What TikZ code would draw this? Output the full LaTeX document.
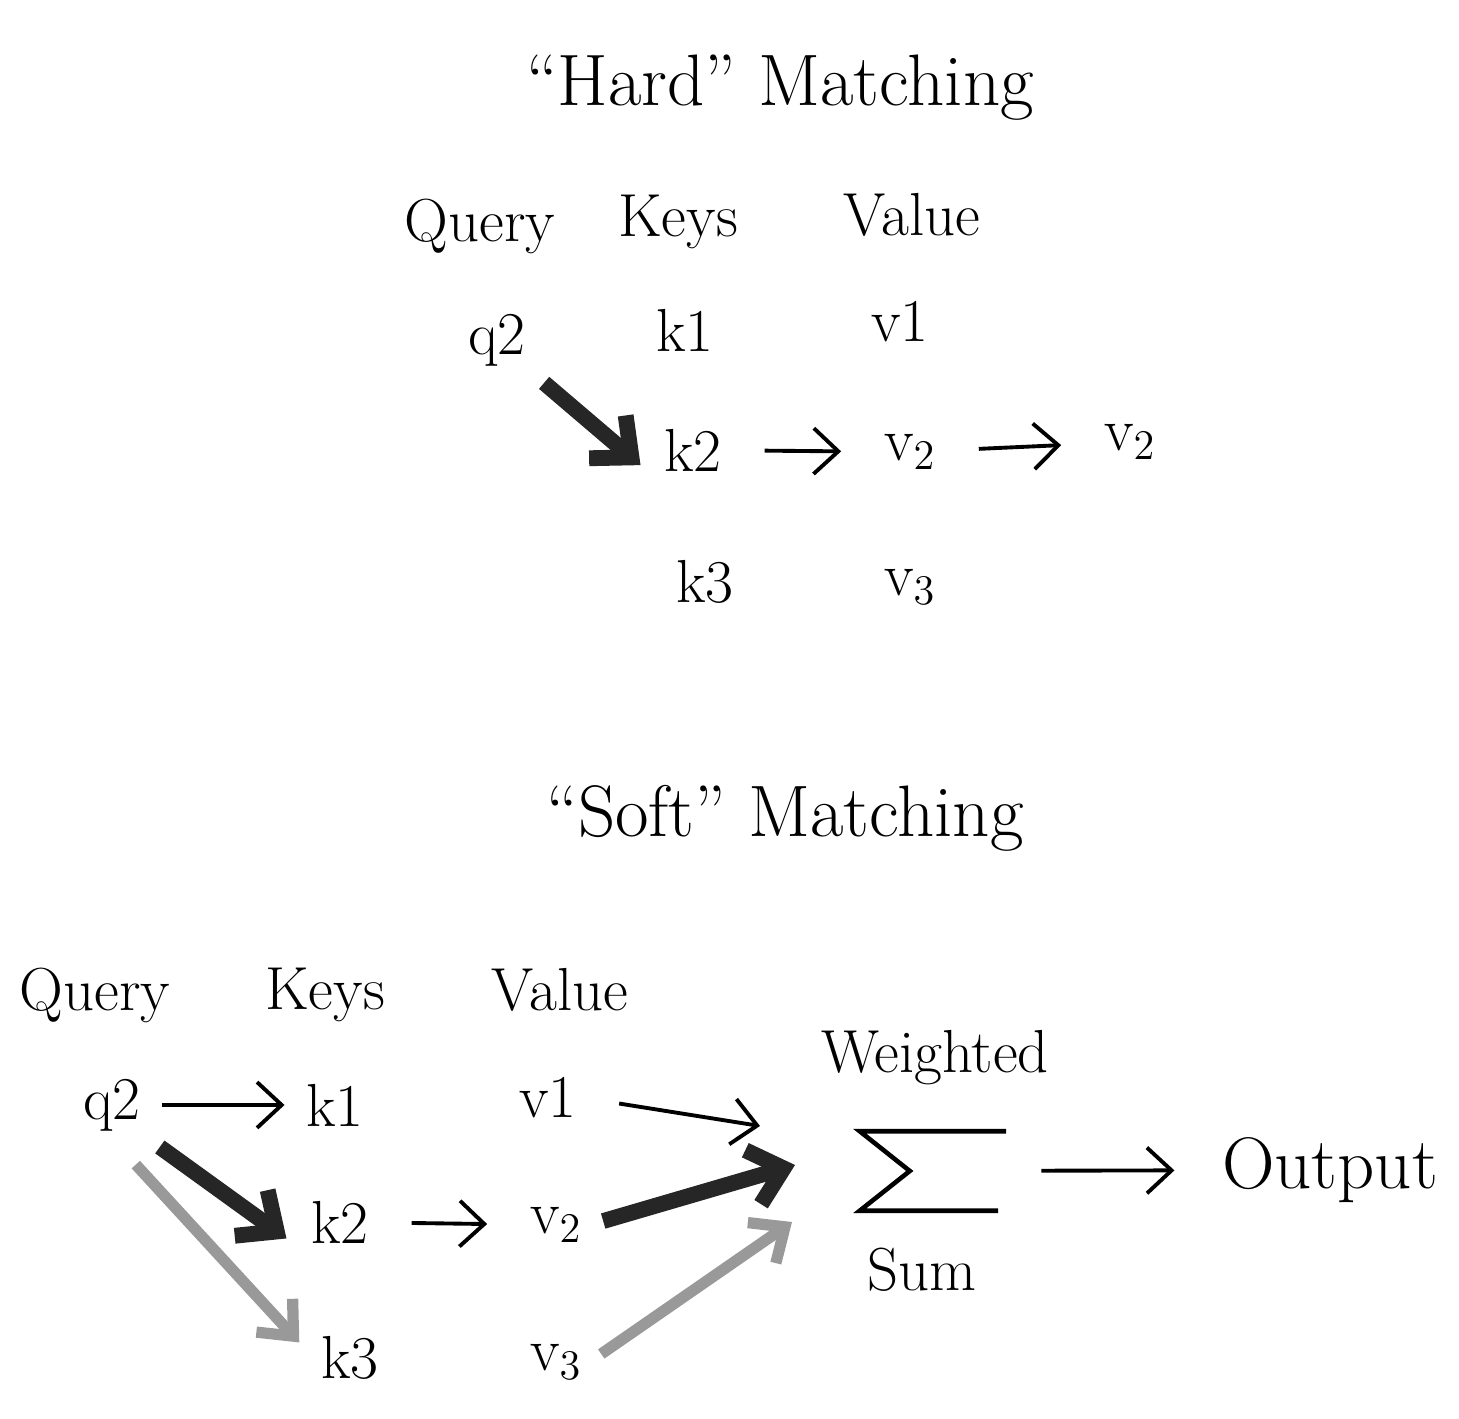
\documentclass[tikz,border=0pt]{standalone}
\usetikzlibrary{arrows.meta}
\tikzset{>=stealth}
\colorlet{background}{white}
\colorlet{penColor}{black!85}
\colorlet{penColor2}{black!40}
\tikzset{
  titletext/.style={font=\huge},
  headtext/.style={font=\LARGE},
  itemtext/.style={font=\LARGE, inner sep=2pt},
  thinarrow/.style={-{Straight Barb[length=7pt,width=13pt]}, line width=1.1pt,
    shorten <=10pt, shorten >=10pt},
  heavyarrow/.style={-{Straight Barb[length=9pt,width=16pt]}, line width=4.5pt,
    penColor, shorten <=4pt, shorten >=6pt},
  greyarrow/.style={-{Straight Barb[length=8pt,width=14pt]}, line width=3.2pt,
    penColor2, shorten <=4pt, shorten >=6pt}
}

\begin{document}
\begin{tikzpicture}[x=0.01cm,y=-0.01cm]
				\useasboundingbox (0,0) rectangle (1459,1419);
				% hard matching
				\node [titletext] (hardT) at (780,88) {``Hard'' Matching};
				\node [headtext] (hQ) at (480,226) {Query};
				\node [headtext] (hK) at (678,222) {Keys};
				\node [headtext] (hV) at (912,215) {Value};
				\node [itemtext] (hq2) at (497,340) {q2};
				\node [itemtext] (hk1) at (685,330) {k1};
				\node [itemtext] (hv1) at (900,322) {v1};
				\node [itemtext] (hk2) at (693,450) {k2};
				\node [itemtext] (hv2) at (910,452) {v$_2$};
				\node [itemtext] (hout) at (1130,442) {v$_2$};
				\node [itemtext] (hk3) at (705,582) {k3};
				\node [itemtext] (hv3) at (910,587) {v$_3$};
				\draw [heavyarrow] (hq2.south east) -- (hk2.south west);
				\draw [thinarrow] (hk2) -- (hv2);
				\draw [thinarrow] (hv2) -- (hout);
				
				% soft matching
				\node [titletext] (softT) at (785,818) {``Soft'' Matching};
				\node [headtext] (sQ) at (95,995) {Query};
				\node [headtext] (sK) at (325,995) {Keys};
				\node [headtext] (sV) at (560,990) {Value};
				\node [itemtext] (sq2) at (112,1105) {q2};
				\node [itemtext] (sk1) at (335,1105) {k1};
				\node [itemtext] (sv1) at (548,1098) {v1};
				\node [itemtext] (sk2) at (340,1222) {k2};
				\node [itemtext] (sv2) at (556,1225) {v$_2$};
				\node [itemtext] (sk3) at (350,1358) {k3};
				\node [itemtext] (sv3) at (556,1362) {v$_3$};
				% the sigma, drawn by hand
				\node [minimum width=1.45cm, minimum height=0.78cm, inner sep=0pt] (sum) at (933,1171) {};
				\draw [line width=1.3pt, line join=miter] (sum.north east) -- (sum.north west)
				  -- ([xshift=0.5cm]sum.west) -- (sum.south west) -- ([xshift=-0.08cm]sum.south east);
				\node [headtext] (wgt) at (935,1058) {Weighted};
				\node [headtext] (sumT) at (922,1270) {Sum};
				\node [font=\huge] (out) at (1330,1170) {Output};
				\coordinate (inA) at (760,1126);
				\coordinate (inB) at (795,1165);
				\coordinate (inC) at (792,1222);
				
				\draw [thinarrow, shorten <=4pt, shorten >=4pt] (sq2) -- (sk1);
				\draw [heavyarrow] (sq2.south east) -- (sk2.south west);
				\draw [greyarrow, shorten <=10pt] (sq2.south) -- (sk3.west);
				\draw [thinarrow] (sk2) -- (sv2);
				\draw [thinarrow, shorten >=0pt] (sv1.east) -- (inA);
				\draw [heavyarrow, shorten >=0pt] (sv2.east) -- (inB);
				\draw [greyarrow, shorten >=0pt] (sv3.east) -- (inC);
				\draw [thinarrow] (sum) -- (out);
				\end{tikzpicture}
\end{document}
